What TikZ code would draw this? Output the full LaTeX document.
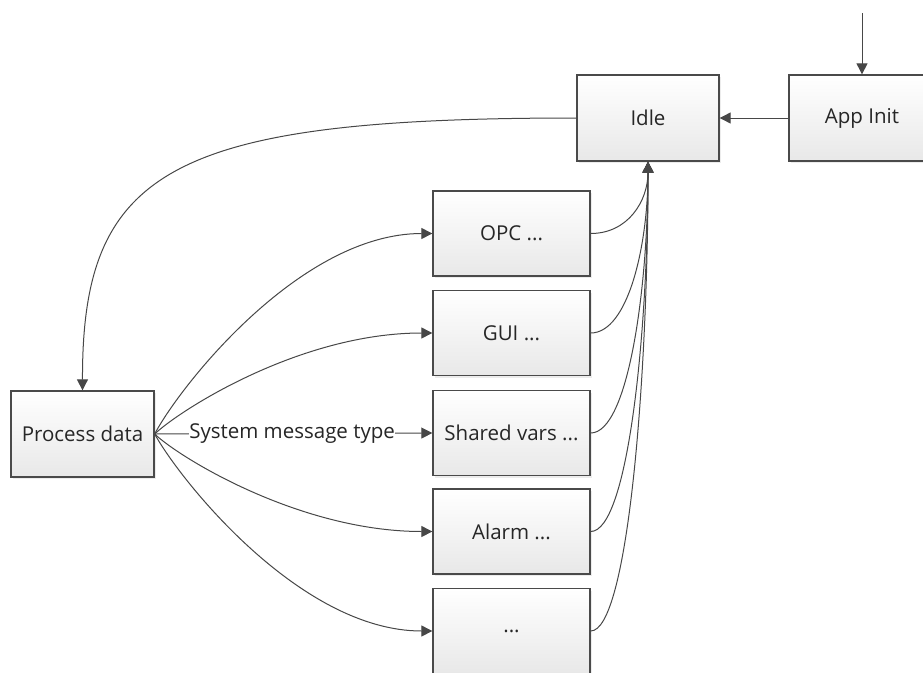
\documentclass[tikz,border=0pt]{standalone}
\usepackage{fontspec}
\setmainfont{Open Sans}
\usetikzlibrary{arrows.meta,shadows}
\definecolor{lc}{HTML}{474747}
\definecolor{bc}{HTML}{4A4A4A}
\definecolor{tc}{HTML}{262626}
\tikzset{
  txt/.style={font=\fontsize{20.5}{24}\selectfont, text=tc},
  box/.style={draw=bc, line width=1.3pt, top color=white, bottom color=black!9,
    drop shadow={shadow xshift=2pt, shadow yshift=-2pt, opacity=0.15},
    txt, inner sep=0pt},
  wire/.style={draw=lc, line width=1pt, -{Triangle[length=11pt,width=11pt]}},
}
\begin{document}
\begin{tikzpicture}[x=1pt,y=-1pt]
\useasboundingbox (0,0) rectangle (923,672);
\clip (0,0) rectangle (923,672);
\node[box, minimum width=142pt, minimum height=86pt] (idle) at (648,118) {Idle};
\node[box, minimum width=146pt, minimum height=86pt] (init) at (862,118) {App Init};
\node[box, minimum width=143pt, minimum height=86pt] (pd) at (82.5,434) {Process data};
\node[box, minimum width=157pt, minimum height=85pt] (opc) at (511.5,233.5) {OPC ...};
\node[box, minimum width=157pt, minimum height=85pt] (gui) at (511.5,333) {GUI ...};
\node[box, minimum width=157pt, minimum height=85pt] (sv) at (511.5,433) {Shared vars ...};
\node[box, minimum width=157pt, minimum height=85pt] (al) at (511.5,531.5) {Alarm ...};
\node[box, minimum width=157pt, minimum height=85pt] (etc) at (511.5,631) {...};
\coordinate (top) at (862,13);
\coordinate (ib) at (idle.south);
\draw[wire] (top) -- (init.north);
\draw[wire] (init.west) -- (idle.east);
\draw[wire] (idle.west) .. controls (170,118) and (82,170) .. (pd.north);
\foreach \t/\yy in {opc/386,gui/410,al/458,etc/480}{
  \draw[wire] (pd.east) .. controls (180,\yy) and (300,0|-\t.west) .. (\t.west);
}
\draw[wire] (pd.east) -- node[fill=white, inner sep=0.5pt, txt, pos=0.495] (lab) {System message type} (sv.west);
\foreach \t/\yy in {opc/201,gui/246,sv/290,al/334,etc/378}{
  \draw[wire] (\t.east) .. controls (628,0|-\t.east) and (648,\yy) .. (ib);
}
\end{tikzpicture}
\end{document}
